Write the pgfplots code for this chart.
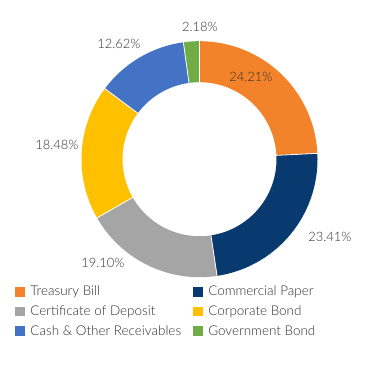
\documentclass[border=0pt]{standalone}
\usepackage{fontspec}
\setmainfont{Lato Light}
\usepackage{pgfplots}
\pgfplotsset{compat=1.18}
\definecolor{tb}{HTML}{F3832A}
\definecolor{cp}{HTML}{083A70}
\definecolor{cd}{HTML}{A5A5A5}
\definecolor{cb}{HTML}{FFC000}
\definecolor{cash}{HTML}{4472C4}
\definecolor{gb}{HTML}{70AD47}
\definecolor{txt}{HTML}{303030}
% centre (199.5,230.8) in pixel space, mid radius 97.5, ring width 41
\newcommand{\cx}{199.5}
\newcommand{\cy}{230.8}
\newcommand{\rmid}{97.5}
\begin{document}
\begin{tikzpicture}
\begin{axis}[
  scale only axis, width=369bp, height=390bp,
  xmin=0, xmax=369, ymin=0, ymax=390,
  hide axis, clip=false,
  legend columns=2,
  legend style={at={(axis cs:15.3,106)}, anchor=north west, draw=none, fill=none,
    font=\fontsize{13.5}{16}\selectfont\color{txt},
    row sep=4.4bp, /tikz/every even column/.append style={column sep=10bp},
    inner sep=0pt, outer sep=0pt},
  legend cell align=left,
  legend image code/.code={\fill[#1] (0bp,-4.3bp) rectangle (8.8bp,4.3bp); \path (12.8bp,0bp);},
]
\path (axis cs:0,0) rectangle (axis cs:369,390);
% Segments: percentages of the whole, clockwise from the top
% Treasury Bill 24.21, Commercial Paper 23.41, Certificate of Deposit 19.10,
% Corporate Bond 18.48, Cash & Other Receivables 12.62, Government Bond 2.18
\addplot[forget plot, tb, line width=41bp, samples=60, domain=0:24.21]
  ({\cx+\rmid*cos(90-3.6*x)},{\cy+\rmid*sin(90-3.6*x)});
\addplot[forget plot, cp, line width=41bp, samples=60, domain=24.21:47.62]
  ({\cx+\rmid*cos(90-3.6*x)},{\cy+\rmid*sin(90-3.6*x)});
\addplot[forget plot, cd, line width=41bp, samples=60, domain=47.62:66.72]
  ({\cx+\rmid*cos(90-3.6*x)},{\cy+\rmid*sin(90-3.6*x)});
\addplot[forget plot, cb, line width=41bp, samples=60, domain=66.72:85.20]
  ({\cx+\rmid*cos(90-3.6*x)},{\cy+\rmid*sin(90-3.6*x)});
\addplot[forget plot, cash, line width=41bp, samples=60, domain=85.20:97.82]
  ({\cx+\rmid*cos(90-3.6*x)},{\cy+\rmid*sin(90-3.6*x)});
\addplot[forget plot, gb, line width=41bp, samples=20, domain=97.82:100]
  ({\cx+\rmid*cos(90-3.6*x)},{\cy+\rmid*sin(90-3.6*x)});
% thin white separators at the segment borders
\foreach \p in {0,24.21,47.62,66.72,85.20,97.82}{
  \edef\tmp{\noexpand\draw[white, line width=0.8bp]
    (axis cs:{\cx+76*cos(90-3.6*\p)},{\cy+76*sin(90-3.6*\p)}) --
    (axis cs:{\cx+119.5*cos(90-3.6*\p)},{\cy+119.5*sin(90-3.6*\p)});}\tmp
}
% data labels
\begin{scope}[every node/.style={font=\fontsize{13}{15}\selectfont, text=txt, inner sep=0pt}]
\node at (axis cs:251,313) {24.21\%};
\node at (axis cs:330,153) {23.41\%};
\node at (axis cs:103,127) {19.10\%};
\node at (axis cs:57,245) {18.48\%};
\node at (axis cs:119,346) {12.62\%};
\node at (axis cs:200,363) {2.18\%};
\end{scope}
\addlegendimage{tb}\addlegendentry{Treasury Bill}
\addlegendimage{cp}\addlegendentry{Commercial Paper}
\addlegendimage{cd}\addlegendentry{Certificate of Deposit}
\addlegendimage{cb}\addlegendentry{Corporate Bond}
\addlegendimage{cash}\addlegendentry{Cash \& Other Receivables}
\addlegendimage{gb}\addlegendentry{Government Bond}
\end{axis}
\end{tikzpicture}
\end{document}
